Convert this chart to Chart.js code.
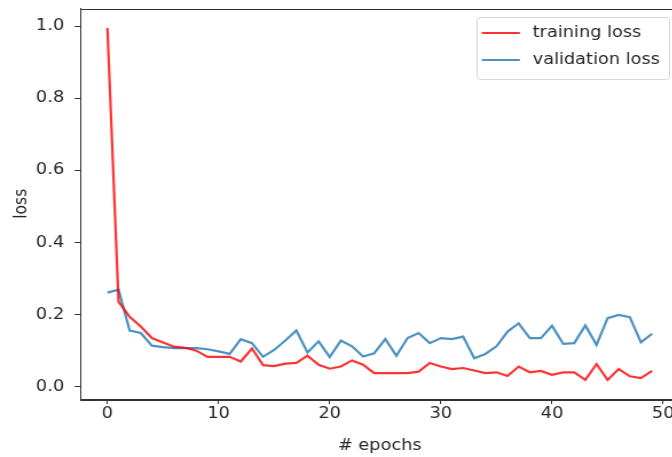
<!DOCTYPE html>
<html>
<head>
<meta charset="utf-8">
<script src="https://cdn.jsdelivr.net/npm/chart.js@4"></script>
<style>
html,body{margin:0;padding:0;background:#fff;overflow:hidden;width:672px;height:457px;}
#wrap{width:598px;height:457px;transform:scaleX(1.1455);transform-origin:0 0;}
canvas{display:block;}
</style>
</head>
<body>
<div id="wrap"><canvas id="c" width="598" height="457"></canvas></div>
<script>
const epochs = Array.from({length: 50}, (_, i) => i);
const trainingLoss = [0.995,0.236,0.194,0.167,0.135,0.123,0.111,0.108,0.100,0.083,
  0.083,0.083,0.070,0.106,0.060,0.057,0.064,0.066,0.086,0.061,
  0.050,0.056,0.073,0.061,0.038,0.038,0.038,0.038,0.042,0.066,
  0.056,0.049,0.052,0.045,0.038,0.040,0.030,0.056,0.040,0.044,
  0.033,0.040,0.040,0.019,0.063,0.019,0.049,0.029,0.024,0.044];
const validationLoss = [0.261,0.269,0.156,0.149,0.114,0.110,0.107,0.107,0.107,0.104,
  0.098,0.091,0.132,0.121,0.083,0.102,0.128,0.156,0.095,0.126,
  0.082,0.128,0.112,0.084,0.093,0.132,0.086,0.135,0.149,0.121,
  0.135,0.132,0.139,0.079,0.091,0.112,0.153,0.176,0.135,0.135,
  0.169,0.119,0.121,0.170,0.116,0.190,0.199,0.193,0.123,0.147];
const xTicks = [0, 10, 20, 30, 40, 50];
const yTicks = [0.0, 0.2, 0.4, 0.6, 0.8, 1.0];
const seriesLabels = ['training loss', 'validation loss'];
const seriesColors = ['rgba(255,0,0,0.8)', 'rgba(31,119,180,0.8)'];

const FONT = '"DejaVu Sans", sans-serif';
const FS = 15.5;
const AX = '#333333';
const TXT = '#262626';

const framePlugin = {
  id: 'frame',
  afterDraw(chart) {
    const {ctx, chartArea: a} = chart;
    ctx.save();
    ctx.strokeStyle = AX;
    ctx.lineWidth = 1;
    ctx.strokeRect(Math.round(a.left) + 0.5, Math.round(a.top) + 0.5,
                   Math.round(a.right - a.left), Math.round(a.bottom - a.top));
    // legend
    const x0 = 416.5, y0 = 17.5, w = 168, h = 62;
    ctx.fillStyle = 'rgba(255,255,255,0.8)';
    ctx.strokeStyle = '#d6d6d6';
    ctx.beginPath();
    if (ctx.roundRect) ctx.roundRect(x0, y0, w, h, 3); else ctx.rect(x0, y0, w, h);
    ctx.fill();
    ctx.stroke();
    ctx.font = FS + 'px ' + FONT;
    ctx.textBaseline = 'middle';
    ctx.textAlign = 'left';
    chart.data.datasets.forEach((ds, i) => {
      const yy = 33 + i * 27;
      ctx.strokeStyle = ds.borderColor;
      ctx.lineWidth = 2.2;
      ctx.beginPath();
      ctx.moveTo(420.6, yy);
      ctx.lineTo(453.8, yy);
      ctx.stroke();
      ctx.fillStyle = TXT;
      ctx.fillText(ds.label, 465, yy);
    });
    ctx.restore();
  }
};

new Chart(document.getElementById('c'), {
  type: 'line',
  data: {
    labels: epochs,
    datasets: [
      {label: seriesLabels[0], data: epochs.map((e, i) => ({x: e, y: trainingLoss[i]})),
       borderColor: seriesColors[0], borderWidth: 2.2, pointRadius: 0, tension: 0, fill: false},
      {label: seriesLabels[1], data: epochs.map((e, i) => ({x: e, y: validationLoss[i]})),
       borderColor: seriesColors[1], borderWidth: 2.2, pointRadius: 0, tension: 0, fill: false}
    ]
  },
  options: {
    responsive: false,
    animation: false,
    layout: {padding: {top: 8.5, right: 5, left: 0, bottom: 0}},
    plugins: {legend: {display: false}, tooltip: {enabled: false}},
    scales: {
      x: {
        type: 'linear',
        min: -2.45, max: 51.45,
        afterBuildTicks: s => { s.ticks = xTicks.map(v => ({value: v})); },
        afterFit: s => { s.height = 58; s.paddingLeft = 0; s.paddingRight = 0; },
        grid: {drawOnChartArea: false, drawTicks: true, tickLength: 5, tickColor: AX, tickWidth: 1},
        border: {display: true, color: AX, width: 1},
        ticks: {color: TXT, font: {family: FONT, size: FS}, padding: 1, maxRotation: 0,
                callback: v => String(v)},
        title: {display: true, text: '# epochs', color: TXT, font: {family: FONT, size: FS}, padding: {top: 0, bottom: 1.5}}
      },
      y: {
        type: 'linear',
        min: -0.034, max: 1.049,
        afterBuildTicks: s => { s.ticks = yTicks.map(v => ({value: v})); },
        afterFit: s => { s.width = 70; s.paddingTop = 0; s.paddingBottom = 0; },
        grid: {drawOnChartArea: false, drawTicks: true, tickLength: 5, tickColor: AX, tickWidth: 1},
        border: {display: true, color: AX, width: 1},
        ticks: {color: TXT, font: {family: FONT, size: FS}, padding: 9,
                callback: v => Number(v).toFixed(1)},
        title: {display: true, text: 'loss', color: TXT, font: {family: FONT, size: FS}, padding: {top: 9.5, bottom: 0}}
      }
    }
  },
  plugins: [framePlugin]
});
</script>
</body>
</html>
